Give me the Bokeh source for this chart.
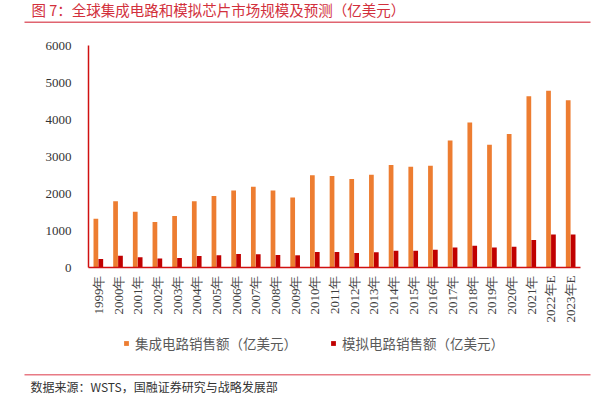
import math
from bokeh.plotting import figure
from bokeh.models import (Range1d, FixedTicker, Label, LinearAxis,
                          Legend, LegendItem, ColumnDataSource)
from bokeh.transform import dodge
from bokeh.embed import file_html
from bokeh.resources import INLINE

years = ["1999年", "2000年", "2001年", "2002年", "2003年", "2004年", "2005年", "2006年",
         "2007年", "2008年", "2009年", "2010年", "2011年", "2012年", "2013年", "2014年",
         "2015年", "2016年", "2017年", "2018年", "2019年", "2020年", "2021年", "2022年E",
         "2023年E"]
ic_sales = [1320, 1790, 1510, 1230, 1390, 1790, 1930, 2080, 2180, 2080, 1890, 2490,
            2470, 2390, 2510, 2770, 2720, 2750, 3430, 3920, 3320, 3610, 4630, 4780, 4520]
analog_sales = [230, 320, 280, 240, 260, 310, 330, 365, 360, 340, 330, 420,
                420, 390, 410, 450, 450, 480, 540, 590, 540, 560, 740, 890, 890]
y_ticks = [0, 1000, 2000, 3000, 4000, 5000, 6000]

title_text = "图 7：全球集成电路和模拟芯片市场规模及预测（亿美元）"
series_names = ["集成电路销售额（亿美元）", "模拟电路销售额（亿美元）"]
source_text = "数据来源：WSTS，国融证券研究与战略发展部"

ORANGE = "#ED7D31"
RED = "#C00000"
AXIS_RED = "#D01010"
CJK = "Noto Sans CJK SC"

# canvas and plot-area geometry (pixels)
W, H = 599, 396
PLOT_L, PLOT_R, PLOT_T, PLOT_B = 88, 580, 45, 267
Y_MAX = 6000

n = len(years)
cat_px = (PLOT_R - PLOT_L) / n                 # pixels per category
x_start = -0.5 - PLOT_L / cat_px
x_end = x_start + W / cat_px
px_per_unit = (PLOT_B - PLOT_T) / Y_MAX
y_start = -(H - PLOT_B) / px_per_unit
y_end = Y_MAX + PLOT_T / px_per_unit

src = ColumnDataSource(dict(idx=list(range(n)), year=years,
                            ic=ic_sales, analog=analog_sales))

p = figure(width=W, height=H, x_range=Range1d(x_start, x_end),
           y_range=Range1d(y_start, y_end), output_backend="svg",
           toolbar_location=None, x_axis_type=None, y_axis_type=None, min_border=0)
p.outline_line_color = None
p.xgrid.grid_line_color = None
p.ygrid.grid_line_color = None
p.background_fill_color = "white"
p.border_fill_color = "white"

# page-pixel ranges for decorative rules
p.extra_x_ranges = {"px": Range1d(0, W)}
p.extra_y_ranges = {"px": Range1d(H, 0)}

r1 = p.vbar(x=dodge("idx", -0.125, range=p.x_range), top="ic", width=0.24,
            source=src, fill_color=ORANGE, line_color=None)
r2 = p.vbar(x=dodge("idx", 0.125, range=p.x_range), top="analog", width=0.24,
            source=src, fill_color=RED, line_color=None)

# y axis (fixed at the left edge of the category band)
yax = LinearAxis(fixed_location=-0.5, bounds=(0, Y_MAX),
                 ticker=FixedTicker(ticks=y_ticks))
yax.axis_line_color = AXIS_RED
yax.axis_line_width = 1.5
yax.major_tick_line_color = None
yax.minor_tick_line_color = None
yax.major_tick_out = 0
yax.major_tick_in = 0
yax.major_label_standoff = 17
yax.major_label_text_font = "Liberation Serif"
yax.major_label_text_font_size = "13px"
yax.major_label_text_color = "#333333"
p.add_layout(yax, "left")

# x axis (fixed at value 0), category labels
xax = LinearAxis(fixed_location=0, bounds=(-0.5, n - 0.5),
                 ticker=FixedTicker(ticks=list(range(n))),
                 major_label_overrides={i: y for i, y in enumerate(years)})
xax.axis_line_color = AXIS_RED
xax.axis_line_width = 1.5
xax.major_tick_line_color = None
xax.minor_tick_line_color = None
xax.major_tick_out = 0
xax.major_tick_in = 0
xax.major_label_standoff = 8
xax.major_label_orientation = math.pi / 2
xax.major_label_text_font = "Liberation Serif"
xax.major_label_text_font_size = "13px"
xax.major_label_text_color = "#404040"
p.add_layout(xax, "below")

# legend
legend = Legend(items=[LegendItem(label=series_names[0], renderers=[r1]),
                       LegendItem(label=series_names[1], renderers=[r2])],
                orientation="horizontal", location=(123, H - 353),
                glyph_width=6, glyph_height=6, label_standoff=6, spacing=33,
                padding=0, margin=0, border_line_color=None,
                background_fill_alpha=0, label_text_font_size="13.5px",
                label_text_color="#595959", label_text_font=CJK,
                label_height=16)
p.add_layout(legend, "center")

# title, rules, source
p.add_layout(Label(x=31, y=H - 9, x_units="screen", y_units="screen",
                   text=title_text, text_font_size="14.5px", text_color="#D2303C",
                   text_font=CJK, text_baseline="middle"))
p.segment(x0=[24, 24], y0=[21.7, 374.3], x1=[590, 590], y1=[21.7, 374.3],
          line_color=["#E06470", "#E87A85"], line_width=1.5,
          x_range_name="px", y_range_name="px")
p.add_layout(Label(x=30, y=H - 386, x_units="screen", y_units="screen",
                   text=source_text, text_font_size="12px", text_color="#333333",
                   text_font=CJK, text_baseline="middle"))

open("out.html", "w").write(file_html(p, INLINE))
